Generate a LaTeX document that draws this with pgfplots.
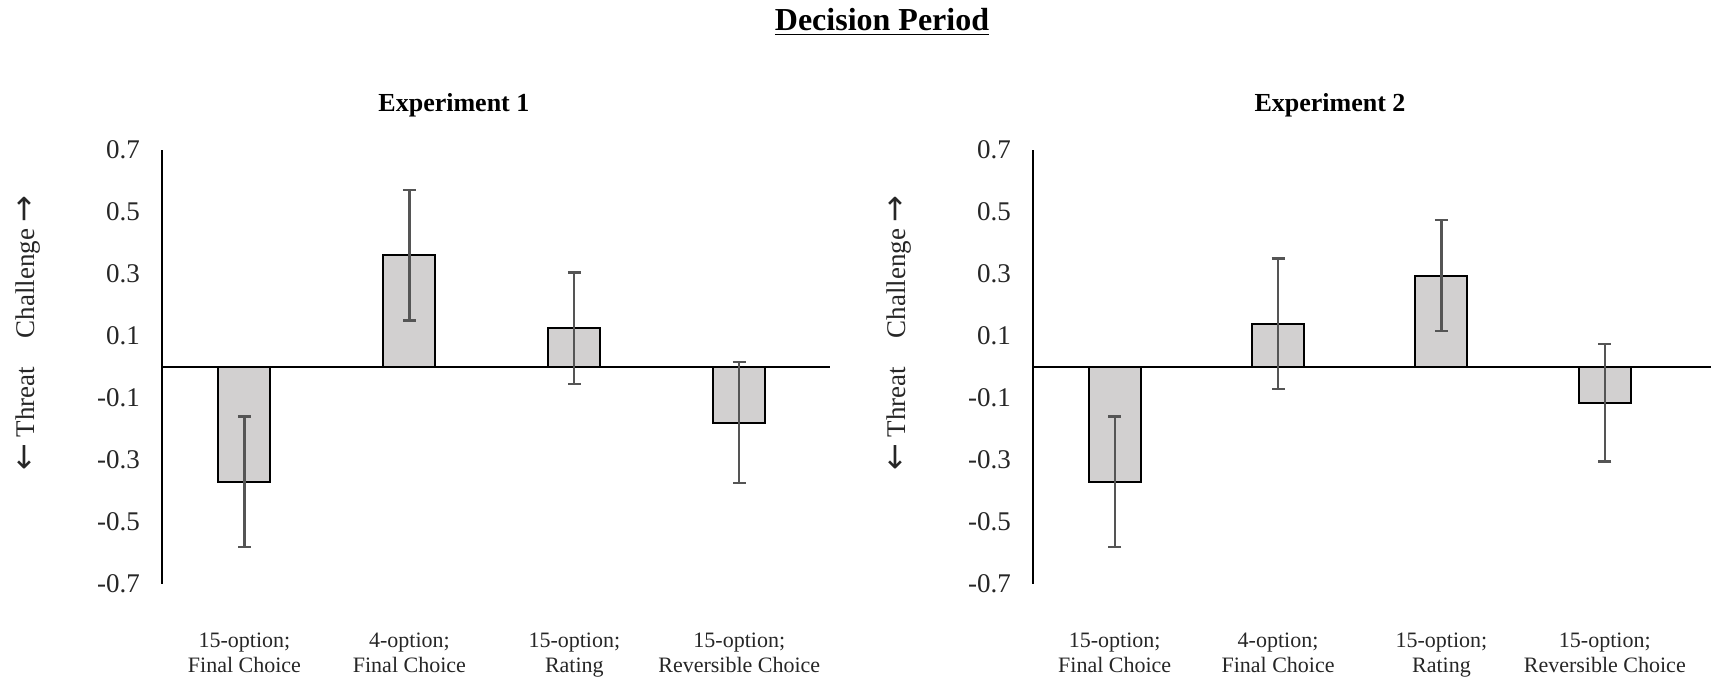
\documentclass[border=0pt]{standalone}
\usepackage{fontspec}
\setmainfont{Liberation Serif}
\newfontfamily\arrowfont{DejaVu Sans}
\usepackage{pgfplots}
\usepackage{pgfplotstable}
\pgfplotsset{compat=1.18}

\definecolor{barfill}{RGB}{210,208,208}
\definecolor{errgray}{RGB}{85,85,85}

% mean and half-width of the error bar
\pgfplotstableread{
x y err
1 -0.37 0.21
2 0.36 0.21
3 0.125 0.18
4 -0.18 0.195
}\expone
\pgfplotstableread{
x y err
1 -0.37 0.21
2 0.14 0.21
3 0.295 0.18
4 -0.115 0.19
}\exptwo

\newcommand\arr[1]{{\arrowfont\fontsize{16}{16}\selectfont #1}}

\pgfplotsset{
  panel/.style={
    scale only axis, height=217pt,
    ymin=-0.7, ymax=0.7,
    ytick={-0.7,-0.5,-0.3,-0.1,0.1,0.3,0.5,0.7},
    xmin=0.5, xtick={1,2,3,4},
    xticklabels={15-option;\\Final Choice, 4-option;\\Final Choice,
                 15-option;\\Rating, 15-option;\\Reversible Choice},
    axis y line*=left, axis x line*=bottom,
    x axis line style={draw=none},
    y axis line style={line width=1pt},
    major tick length=0pt,
    yticklabel style={font=\fontsize{13.5}{15}\selectfont, text=black!85, xshift=-7.5pt},
    xticklabel style={font=\fontsize{11}{12.5}\selectfont, text=black!85, align=center, yshift=-21pt},
    /pgf/number format/.cd, fixed, fixed zerofill, precision=1, assume math mode=true,
    /pgfplots/.cd,
    extra y ticks={0}, extra y tick labels={},
    extra y tick style={grid=major, major grid style={black, line width=1pt}},
    ylabel={\arr{←} Threat\hspace{1.05em}Challenge \arr{→}},
    ylabel style={at={(axis description cs:0,0.578)}, anchor=center, yshift=67pt,
                  font=\fontsize{13.5}{15}\selectfont, text=black!85},
    title style={font=\bfseries\fontsize{13}{15}\selectfont, anchor=center, yshift=16.5pt},
    ybar, bar width=26pt,
  },
  bars/.style={
    fill=barfill, draw=black, line width=1pt,
    error bars/.cd, y dir=both, y explicit,
    error bar style={color=errgray, line width=1.1pt},
    error mark options={rotate=90, color=errgray, line width=1.1pt, mark size=3.25pt},
  },
}

\begin{document}
\begin{tikzpicture}
\path[use as bounding box] (-81pt,-47pt) rectangle (774.5pt,292pt);

\node[font=\bfseries\fontsize{16}{18}\selectfont] at (360pt,281pt) {\underline{Decision Period}};

\begin{axis}[panel, width=334pt, xmax=4.55,
  at={(0pt,0pt)}, anchor=south west,
  title={Experiment 1}, title style={at={(0.437,1)}}]
\addplot[bars] table[x=x, y=y, y error=err] {\expone};
\end{axis}

\begin{axis}[panel, width=339pt, xmax=4.65,
  at={(435.5pt,0pt)}, anchor=south west,
  title={Experiment 2}, title style={at={(0.438,1)}}]
\addplot[bars] table[x=x, y=y, y error=err] {\exptwo};
\end{axis}
\end{tikzpicture}
\end{document}
